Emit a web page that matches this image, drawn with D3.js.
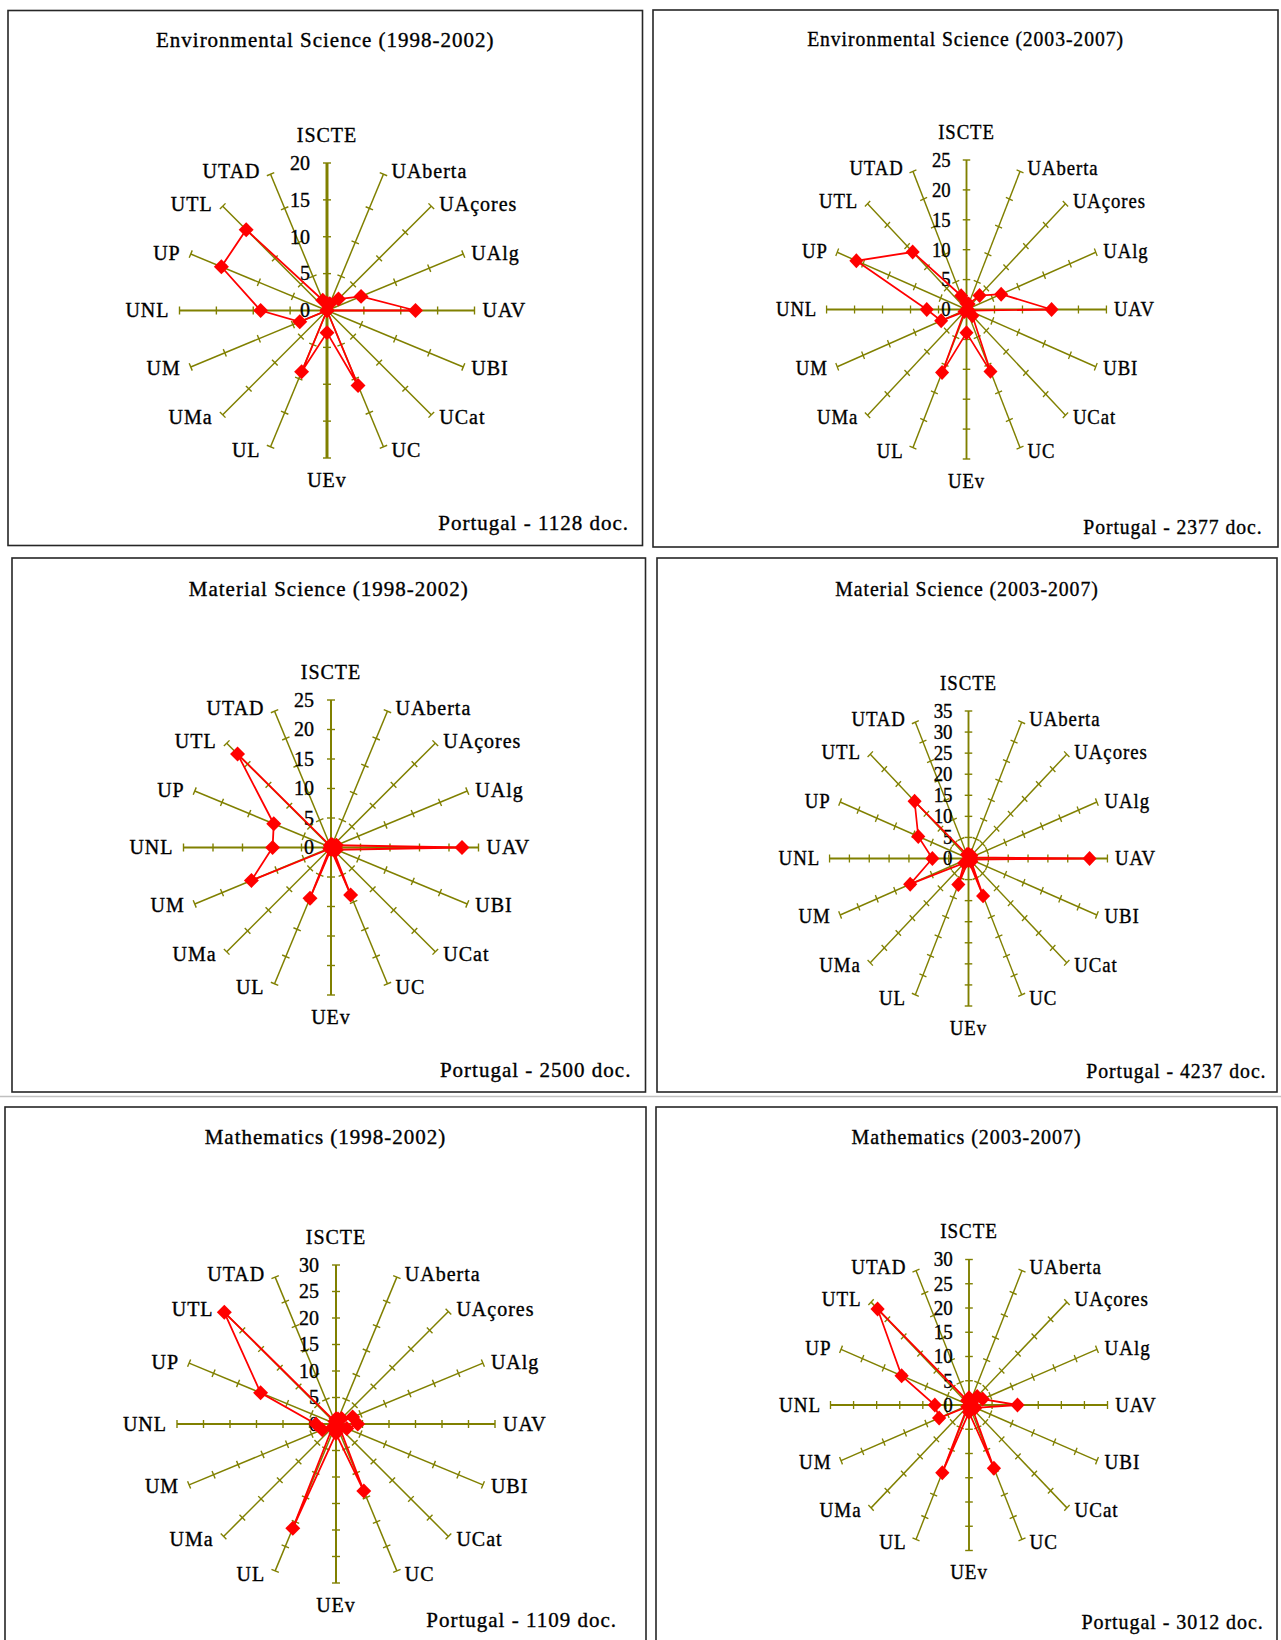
<!DOCTYPE html>
<html>
<head>
<meta charset="utf-8">
<script src="https://cdn.jsdelivr.net/npm/d3@7"></script>
<style>
  body { margin: 0; background: #fff; }
  text { font-family: "Liberation Serif", "Times New Roman", serif; fill: #000; stroke: #000; stroke-width: 0.35px; }
</style>
</head>
<body>
<div id="chart"></div>
<script>
const categories = ["ISCTE", "UAberta", "UAçores", "UAlg", "UAV", "UBI", "UCat", "UC",
                    "UEv", "UL", "UMa", "UM", "UNL", "UP", "UTL", "UTAD"];

// shares per university
const envSci9802 = [1, 1, 2.2, 5, 12, 0, 0, 11, 3, 9, 0, 4, 9, 15.5, 15.5, 1.5];
const envSci0307 = [1, 1, 3.3, 6.7, 15.2, 0.5, 1.5, 11.2, 3.9, 11.4, 0.5, 4.9, 7.1, 21.3, 13.6, 2.5];
const matSci9802 = [0.5, 0.5, 0.5, 1, 22.2, 1, 0.5, 8.7, 0.3, 9.3, 0.3, 14.6, 9.9, 10.5, 22.4, 0.3];
const matSci0307 = [1, 0.8, 1, 0.7, 30.5, 0.7, 1, 9.6, 0.5, 6.7, 1.5, 15.9, 9.1, 13.7, 19.2, 1];
const math9802 = [1, 1, 1.5, 3.4, 4.1, 2.2, 1, 13.7, 1.8, 21.3, 1, 2.8, 3.8, 15.4, 29.8, 0.5];
const math0307 = [1.5, 1, 2.5, 3.2, 10.5, 1.5, 1, 14.1, 1.5, 15.1, 0.5, 7.0, 7.4, 15.8, 28, 1];

const titles = ["Environmental Science (1998-2002)", "Environmental Science (2003-2007)",
                "Material Science (1998-2002)", "Material Science (2003-2007)",
                "Mathematics (1998-2002)", "Mathematics (2003-2007)"];
const footers = ["Portugal - 1128 doc.", "Portugal - 2377 doc.", "Portugal - 2500 doc.",
                 "Portugal - 4237 doc.", "Portugal - 1109 doc.", "Portugal - 3012 doc."];
const axisMax = [20, 25, 25, 35, 30, 30];
const tickStep = 5;
const series = [envSci9802, envSci0307, matSci9802, matSci0307, math9802, math0307];

// where each panel sits on the page
const layout = [
  {box: [8, 10.5, 642.5, 545.5], cx: 327, cy: 310.5, r: 147.5, sx: 1, titleY: 40, foot: [629, 529.5], spine: 3},
  {box: [653, 10, 1278, 547], cx: 966.5, cy: 309.5, r: 149.5, sx: 0.936, titleY: 39, foot: [1262.5, 533.8], spine: 2},
  {box: [12, 558, 645.5, 1092], cx: 331, cy: 847.5, r: 147.5, sx: 1, titleY: 588.8, foot: [631.4, 1076.6], spine: 2},
  {box: [657, 558, 1277, 1092], cx: 968.5, cy: 858.5, r: 147.5, sx: 0.942, titleY: 588.8, foot: [1266.5, 1078.3], spine: 2},
  {box: [5, 1107, 646, 1650], cx: 336, cy: 1424, r: 159, sx: 1, titleY: 1137, foot: [617, 1627], spine: 2},
  {box: [656, 1107, 1277, 1650], cx: 969, cy: 1405, r: 145.5, sx: 0.952, titleY: 1137, foot: [1263.7, 1628.5], spine: 2}
];

const olive = "#808000";
const red = "#ff0000";

const svg = d3.select("#chart")
  .append("svg")
  .attr("width", 1281)
  .attr("height", 1640);

svg.append("line")
  .attr("x1", 0).attr("x2", 1281)
  .attr("y1", 1096.5).attr("y2", 1096.5)
  .attr("stroke", "#c0c0c0")
  .attr("stroke-width", 1.5);

const angle = d3.scaleLinear()
  .domain([0, categories.length])
  .range([0, 2 * Math.PI]);

const diamond = {
  draw(ctx, size) {
    const h = Math.sqrt(size / 2);
    ctx.moveTo(0, -h);
    ctx.lineTo(h, 0);
    ctx.lineTo(0, h);
    ctx.lineTo(-h, 0);
    ctx.closePath();
  }
};

layout.forEach((p, k) => {
  const [x0, y0, x1, y1] = p.box;

  svg.append("rect")
    .attr("x", x0).attr("y", y0)
    .attr("width", x1 - x0).attr("height", y1 - y0)
    .attr("fill", "none")
    .attr("stroke", "#262626")
    .attr("stroke-width", 1.6);

  svg.append("text")
    .attr("transform", `translate(${(x0 + x1) / 2},${p.titleY + 7}) scale(${p.sx},1)`)
    .attr("text-anchor", "middle")
    .attr("font-size", 21)
    .attr("letter-spacing", 1)
    .text(titles[k]);

  svg.append("text")
    .attr("transform", `translate(${p.foot[0]},${p.foot[1]}) scale(${p.sx},1)`)
    .attr("text-anchor", "end")
    .attr("font-size", 21)
    .attr("letter-spacing", 1)
    .text(footers[k]);

  const g = svg.append("g")
    .attr("transform", `translate(${p.cx},${p.cy}) scale(${p.sx},1)`);

  const rScale = d3.scaleLinear().domain([0, axisMax[k]]).range([0, p.r]);
  const ticks = d3.range(tickStep, axisMax[k] + 0.001, tickStep);

  // spokes
  categories.forEach((c, i) => {
    const a = angle(i);
    const [ex, ey] = d3.pointRadial(a, p.r);
    let w = 1.5;
    if (i === 0 || i === 8) w = p.spine;
    if (i === 4 || i === 12) w = 2.2;
    g.append("line")
      .attr("x1", 0).attr("y1", 0)
      .attr("x2", ex).attr("y2", ey)
      .attr("stroke", olive)
      .attr("stroke-width", w);

    const px = Math.cos(a), py = Math.sin(a);
    g.append("g").selectAll("line")
      .data(ticks)
      .join("line")
        .attr("x1", v => d3.pointRadial(a, rScale(v))[0] - 4 * px)
        .attr("y1", v => d3.pointRadial(a, rScale(v))[1] - 4 * py)
        .attr("x2", v => d3.pointRadial(a, rScale(v))[0] + 4 * px)
        .attr("y2", v => d3.pointRadial(a, rScale(v))[1] + 4 * py)
        .attr("stroke", olive)
        .attr("stroke-width", 1.4);
  });

  // value labels on the vertical axis
  g.append("g").selectAll("text")
    .data(d3.range(0, axisMax[k] + 0.001, tickStep))
    .join("text")
      .attr("x", -17)
      .attr("y", v => -rScale(v))
      .attr("dy", "0.34em")
      .attr("text-anchor", "end")
      .attr("font-size", 20)
      .text(v => v);

  // series polygon
  const line = d3.lineRadial()
    .angle((d, i) => angle(i))
    .radius(d => rScale(d))
    .curve(d3.curveLinearClosed);

  g.append("path")
    .datum(series[k])
    .attr("d", line)
    .attr("fill", "none")
    .attr("stroke", red)
    .attr("stroke-width", 1.8);

  g.append("g").selectAll("path")
    .data(series[k])
    .join("path")
      .attr("transform", (d, i) => {
        const [x, y] = d3.pointRadial(angle(i), rScale(d));
        return `translate(${x},${y})`;
      })
      .attr("d", d3.symbol(diamond, 112))
      .attr("fill", red);

  // category labels
  g.append("g").selectAll("text")
    .data(categories)
    .join("text")
      .each(function (c, i) {
        const a = angle(i), s = Math.sin(a), co = Math.cos(a);
        const [ex, ey] = d3.pointRadial(a, p.r);
        let x = ex, y, anchor = "middle";
        if (Math.abs(s) < 0.01) {
          y = co > 0 ? ey - 28 : ey + 22;
        } else {
          x = ex + (s > 0 ? 8 : -10);
          y = ey - 3.5 * co;
          anchor = s > 0 ? "start" : "end";
        }
        d3.select(this)
          .attr("x", x)
          .attr("y", y)
          .attr("dy", "0.34em")
          .attr("text-anchor", anchor);
      })
      .attr("font-size", 20)
      .attr("letter-spacing", 1)
      .text(c => c);
});
</script>
</body>
</html>
